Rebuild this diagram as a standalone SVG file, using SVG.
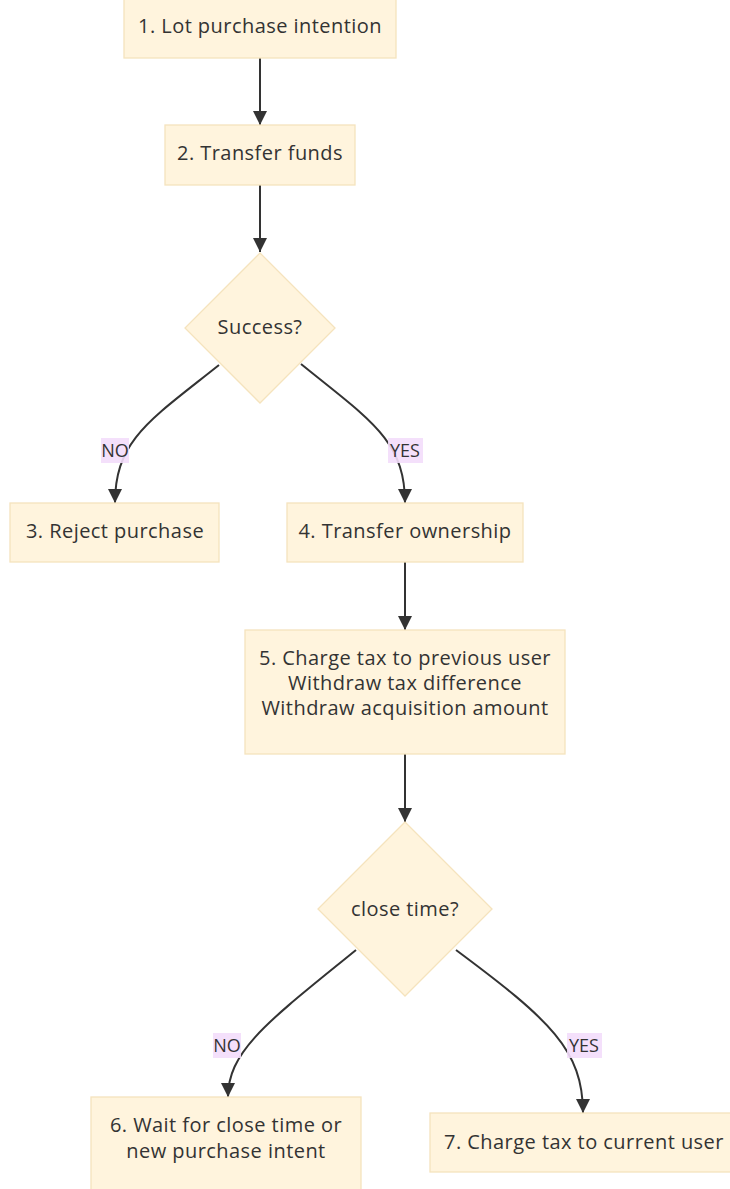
<svg xmlns="http://www.w3.org/2000/svg" width="730" height="1189" viewBox="0 0 730 1189">
<style>
.node rect,.node polygon{fill:#fff4dd;stroke:#f5e3bd;stroke-width:1.3}
text{font-family:"Open Sans",Lato,"Liberation Sans",sans-serif;font-size:20px;letter-spacing:0.45px;fill:#333;text-anchor:middle;dominant-baseline:central}
.edge{fill:none;stroke:#333;stroke-width:2}
.lbl rect{fill:#f3ddfb;opacity:0.9}
.lbl text{font-size:18px;letter-spacing:0}
</style>
<defs>
<marker id="arr" markerUnits="userSpaceOnUse" markerWidth="14" markerHeight="14" viewBox="0 0 10 10" refX="10" refY="5" orient="auto">
<path d="M0,0 L10,5 L0,10 z" fill="#333"/>
</marker>
</defs>
<g id="connectors">
<path class="edge" d="M260,58 L260,125" marker-end="url(#arr)"/>
<path class="edge" d="M260,185 L260,252" marker-end="url(#arr)"/>
<path class="edge" d="M219,365 C150,420 115,440 115,503" marker-end="url(#arr)"/>
<path class="edge" d="M301,364 C370,420 405,440 405,503" marker-end="url(#arr)"/>
<path class="edge" d="M405,562 L405,630" marker-end="url(#arr)"/>
<path class="edge" d="M405,754 L405,822" marker-end="url(#arr)"/>
<path class="edge" d="M356,950 C270,1020 228,1050 228,1097" marker-end="url(#arr)"/>
<path class="edge" d="M456,950 C550,1020 583,1050 583,1113" marker-end="url(#arr)"/>
<g class="lbl"><rect x="101" y="438" width="28" height="25"/><text x="115" y="450">NO</text></g>
<g class="lbl"><rect x="388" y="438" width="35" height="25"/><text x="405" y="450">YES</text></g>
<g class="lbl"><rect x="213" y="1033" width="28" height="25"/><text x="227" y="1045">NO</text></g>
<g class="lbl"><rect x="567" y="1033" width="35" height="25"/><text x="584" y="1045">YES</text></g>
</g>
<g id="n1" class="node"><rect x="124" y="-6" width="272" height="64"/><text x="260" y="25">1. Lot purchase intention</text></g>
<g id="n2" class="node"><rect x="165" y="125" width="190" height="60"/><text x="260" y="152">2. Transfer funds</text></g>
<g id="d1" class="node"><polygon points="260,253 335,328 260,403 185,328"/><text x="260" y="326">Success?</text></g>
<g id="n3" class="node"><rect x="10" y="503" width="209" height="59"/><text x="115" y="530">3. Reject purchase</text></g>
<g id="n4" class="node"><rect x="287" y="503" width="236" height="59"/><text x="405" y="530">4. Transfer ownership</text></g>
<g id="n5" class="node"><rect x="245" y="630" width="320" height="124"/><text x="405" y="657">5. Charge tax to previous user</text><text x="405" y="682">Withdraw tax difference</text><text x="405" y="707">Withdraw acquisition amount</text></g>
<g id="d2" class="node"><polygon points="405,822 492,909 405,996 318,909"/><text x="405" y="908">close time?</text></g>
<g id="n6" class="node"><rect x="91" y="1097" width="270" height="100"/><text x="226" y="1124">6. Wait for close time or</text><text x="226" y="1150">new purchase intent</text></g>
<g id="n7" class="node"><rect x="430" y="1113" width="305" height="59"/><text x="584" y="1141">7. Charge tax to current user</text></g>
</svg>
